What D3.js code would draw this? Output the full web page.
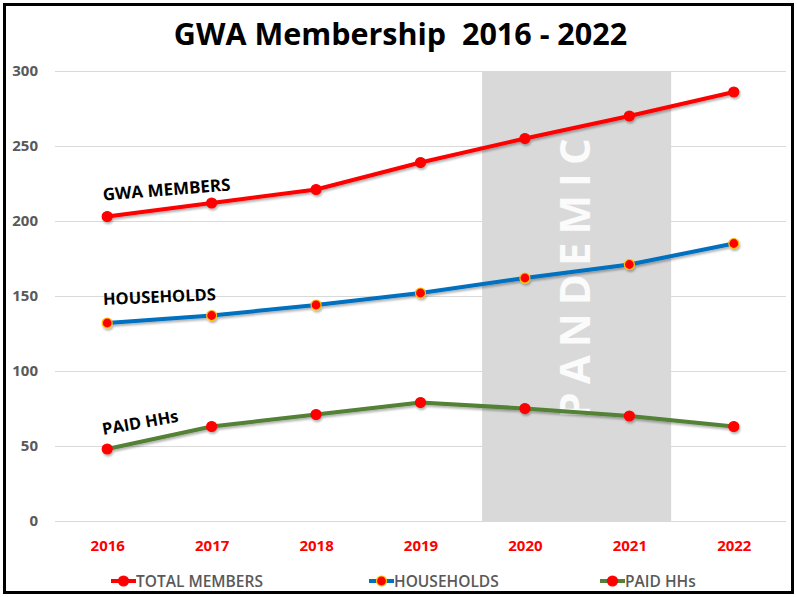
<!DOCTYPE html>
<html lang="en">
<head>
<meta charset="UTF-8">
<title>GWA Membership 2016 - 2022</title>
<script src="https://d3js.org/d3.v7.min.js"></script>
<style>
  body { margin: 0; background: #fff; }
  svg { display: block; font-family: "Open Sans", "DejaVu Sans", sans-serif; }
</style>
</head>
<body>
<svg id="chart"></svg>
<script>
const YEARS = ["2016", "2017", "2018", "2019", "2020", "2021", "2022"];
const TOTAL_MEMBERS = [203, 212, 221, 239, 255, 270, 286];
const HOUSEHOLDS = [132, 137, 144, 152, 162, 171, 185];
const PAID_HHS = [48, 63, 71, 79, 75, 70, 63];
const Y_TICKS = [0, 50, 100, 150, 200, 250, 300];
const SERIES_NAMES = ["TOTAL MEMBERS", "HOUSEHOLDS", "PAID HHs"];
const SERIES_LABELS = ["GWA MEMBERS", "HOUSEHOLDS", "PAID HHs"];
// pandemic band, in category-index units
const PANDEMIC = [3.59, 5.40];

const width = 797, height = 597;
const margin = {top: 71, right: 11, bottom: 76, left: 55};

const svg = d3.select("#chart").attr("width", width).attr("height", height);

const defs = svg.append("defs");
const shadow = defs.append("filter").attr("id", "shadow")
    .attr("x", "-5%").attr("y", "-20%").attr("width", "110%").attr("height", "140%");
shadow.append("feDropShadow").attr("dx", 1).attr("dy", 2)
    .attr("stdDeviation", 1.2).attr("flood-color", "#000").attr("flood-opacity", 0.3);

svg.append("rect").attr("width", width).attr("height", height).attr("fill", "#fff");

const x = d3.scalePoint().domain(YEARS)
    .range([margin.left, width - margin.right]).padding(0.5);
const xi = d3.scaleLinear().domain([0, YEARS.length - 1])
    .range([x(YEARS[0]), x(YEARS[YEARS.length - 1])]);
const y = d3.scaleLinear().domain([0, 300]).range([height - margin.bottom, margin.top]);

// gridlines
svg.append("g")
    .attr("transform", "translate(" + margin.left + ",0)")
    .call(d3.axisLeft(y).tickValues(Y_TICKS).tickSize(-(width - margin.left - margin.right)).tickFormat(""))
    .call(g => g.select(".domain").remove())
    .call(g => g.selectAll("line").attr("stroke", "#d9d9d9").attr("stroke-width", 1));

// pandemic band
svg.append("rect")
    .attr("x", xi(PANDEMIC[0]))
    .attr("y", y(300))
    .attr("width", xi(PANDEMIC[1]) - xi(PANDEMIC[0]))
    .attr("height", y(0) - y(300))
    .attr("fill", "#d9d9d9");

const pcx = (xi(PANDEMIC[0]) + xi(PANDEMIC[1])) / 2;
svg.append("text")
    .attr("transform", "translate(" + (pcx + 13) + "," + (y(167) + 4) + ") rotate(-90)")
    .attr("text-anchor", "middle")
    .attr("fill", "#fbfbfb")
    .attr("font-size", 42)
    .attr("font-weight", 700)
    .attr("letter-spacing", 8)
    .text("PANDEMIC");

// y axis labels
svg.append("g")
    .attr("transform", "translate(38,0)")
    .call(d3.axisLeft(y).tickValues(Y_TICKS).tickSize(0).tickPadding(0))
    .call(g => g.select(".domain").remove())
    .call(g => g.selectAll("text")
        .attr("font-family", "'Open Sans', sans-serif")
        .attr("font-size", 15).attr("font-weight", 700).attr("fill", "#595959"));

// x axis labels
svg.append("g")
    .attr("transform", "translate(0," + (height - margin.bottom) + ")")
    .call(d3.axisBottom(x).tickSize(0).tickPadding(19))
    .call(g => g.select(".domain").remove())
    .call(g => g.selectAll("text")
        .attr("font-family", "'Open Sans', sans-serif")
        .attr("font-size", 15).attr("font-weight", 700).attr("fill", "#ff0000"));

const series = [
    {name: SERIES_NAMES[0], values: TOTAL_MEMBERS, color: "#ff0000", mstroke: "#ff0000"},
    {name: SERIES_NAMES[1], values: HOUSEHOLDS, color: "#0070c0", mstroke: "#ffc000"},
    {name: SERIES_NAMES[2], values: PAID_HHS, color: "#538135", mstroke: "#ff0000"}
];

const line = d3.line().x((d, i) => x(YEARS[i])).y(d => y(d));

const sg = svg.selectAll("g.series").data(series).enter().append("g")
    .attr("class", "series").attr("filter", "url(#shadow)");
sg.append("path")
    .attr("d", d => line(d.values))
    .attr("fill", "none")
    .attr("stroke", d => d.color)
    .attr("stroke-width", 4)
    .attr("stroke-linejoin", "round");
sg.selectAll("circle").data(d => d.values.map(v => ({v: v, s: d}))).enter().append("circle")
    .attr("cx", (d, i) => x(YEARS[i]))
    .attr("cy", d => y(d.v))
    .attr("r", 5)
    .attr("fill", "#ff0000")
    .attr("stroke", d => d.s.mstroke)
    .attr("stroke-width", 1.2);

// series labels near first point
const labelPos = [
    {v: TOTAL_MEMBERS[0], dy: -16, rot: -4.5, size: 17},
    {v: HOUSEHOLDS[0], dy: -18, rot: -2.5, size: 16.5},
    {v: PAID_HHS[0], dy: -14, rot: -10, size: 16.5}
];
svg.selectAll("text.slabel").data(SERIES_LABELS).enter().append("text")
    .attr("class", "slabel")
    .attr("transform", (d, i) => "translate(" + (x(YEARS[0]) - 4) + "," + (y(labelPos[i].v) + labelPos[i].dy) + ") rotate(" + labelPos[i].rot + ")")
    .attr("font-size", (d, i) => labelPos[i].size)
    .attr("font-weight", 700)
    .attr("fill", "#000")
    .text(d => d);

// title
svg.append("text")
    .attr("x", width / 2 + 2)
    .attr("y", 45)
    .attr("text-anchor", "middle")
    .attr("font-size", 30.5)
    .attr("font-weight", 700)
    .attr("fill", "#000")
    .style("white-space", "pre")
    .text("GWA Membership  2016 - 2022");

// legend
const legendX = [111, 369, 600];
const lg = svg.selectAll("g.legend").data(series).enter().append("g")
    .attr("class", "legend")
    .attr("transform", (d, i) => "translate(" + legendX[i] + ",581)");
lg.append("line").attr("x1", 0).attr("x2", 25)
    .attr("stroke", d => d.color).attr("stroke-width", 4);
lg.append("circle").attr("cx", 12.5).attr("r", 5)
    .attr("fill", "#ff0000").attr("stroke", d => d.mstroke).attr("stroke-width", 1.2);
lg.append("text").attr("x", 25).attr("y", 5.5)
    .attr("font-size", 15.5).attr("font-weight", 600).attr("fill", "#595959")
    .text(d => d.name);

// outer border
svg.append("rect").attr("x", 4.5).attr("y", 4.5)
    .attr("width", width - 9).attr("height", height - 9)
    .attr("fill", "none").attr("stroke", "#000").attr("stroke-width", 3);
</script>
</body>
</html>
